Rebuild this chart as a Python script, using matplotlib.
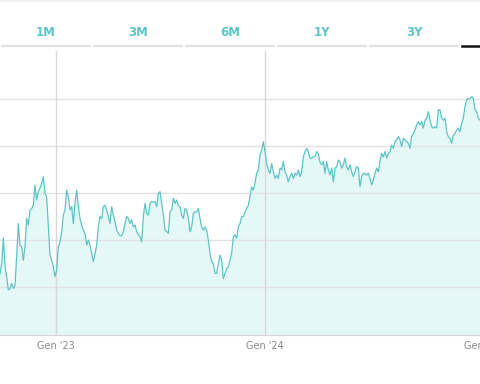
import pandas as pd
import matplotlib
matplotlib.use("Agg")
import matplotlib.pyplot as plt
import matplotlib.transforms as mtransforms
from matplotlib.lines import Line2D
from matplotlib.patches import Rectangle

# price series, one reading every 70 hours starting late Sept 2022
start = "2022-09-25"
step = "70h"
prices = [
    12.9, 15.0, 20.4, 14.3, 12.2, 9.4, 9.7, 10.8, 9.7, 10.4,
    16.5, 23.5, 18.9, 18.6, 15.7, 18.6, 24.6, 23.2, 26.4, 26.7,
    27.4, 31.7, 28.5, 30.3, 31.0, 32.1, 33.5, 29.9, 29.2, 22.8,
    16.8, 15.7, 14.3, 12.2, 13.6, 18.6, 19.6, 21.8, 25.3, 26.4,
    30.6, 29.2, 26.4, 27.1, 23.5, 27.8, 30.6, 27.1, 24.6,
    23.2, 22.1, 21.4, 18.9, 20.0, 18.9, 17.2, 15.4, 17.0, 18.9,
    22.8, 25.0, 24.6, 27.1, 27.4, 26.4, 25.0, 23.5, 27.1, 25.3,
    23.9, 22.1, 21.4, 20.9, 20.9, 21.8, 23.5, 25.0, 24.6, 23.5,
    24.3, 22.8, 23.2, 21.8, 21.1, 20.7, 19.6, 25.0, 27.8, 25.7,
    25.3, 27.8, 28.2, 28.0, 28.2, 27.1, 29.9, 30.3,
    27.8, 25.3, 22.1, 21.8, 21.4, 26.0, 26.4, 28.9, 27.8, 28.5,
    27.4, 27.1, 25.3, 24.6, 26.7, 26.4, 24.6, 21.8, 22.8, 25.7,
    26.0, 26.0, 26.7, 24.6, 22.8, 22.1, 22.8, 22.1, 20.0, 17.2,
    15.4, 15.0, 12.9, 12.9, 15.0, 16.8, 15.7, 11.8, 12.9, 14.0,
    14.3, 15.7, 17.2, 20.7, 21.1, 20.4, 22.8, 23.5,
    25.0, 25.0, 26.0, 26.7, 27.4, 29.2, 31.3, 30.6, 32.1, 34.2,
    34.9, 38.1, 39.1, 40.9, 38.8, 36.3, 34.9, 34.2, 36.3, 34.5,
    33.1, 33.8, 33.1, 35.3, 34.9, 36.7, 34.5, 33.8, 32.4, 33.5,
    34.2, 33.1, 34.2, 33.8, 34.9, 33.5, 34.5, 37.7, 38.8, 39.5,
    38.8, 37.4, 37.4, 37.7, 37.7, 38.8, 38.4, 36.5,
    36.0, 36.7, 34.2, 36.7, 34.9, 33.8, 35.3, 32.4, 35.3, 35.6,
    37.0, 36.7, 35.3, 36.0, 37.4, 35.6, 34.9, 36.0, 34.5, 33.5,
    34.5, 35.6, 35.3, 31.3, 33.5, 34.2, 34.2, 33.8, 34.2, 33.1,
    31.7, 32.8, 34.2, 35.3, 34.5, 36.7, 38.4, 37.7, 38.8, 37.4,
    38.4, 38.8, 40.2, 39.5, 40.9, 41.3, 42.0, 41.3, 39.9, 41.6,
    41.3, 40.9, 40.6, 39.5, 42.0, 42.7, 43.4, 44.5, 45.2, 44.5,
    45.2, 43.8, 45.5, 45.9, 47.3, 45.5, 44.1, 43.8, 44.1, 43.8,
    47.7, 47.7, 45.9, 45.5, 45.9, 43.0, 42.0, 41.6, 40.6, 42.3,
    42.7, 43.4, 43.8, 43.0, 44.8, 45.9, 48.4, 49.8, 50.1, 50.1,
    50.5, 50.1, 47.7, 47.3, 45.9, 45.5,
]
grid_levels = [10, 20, 30, 40, 50]
year_ticks = ["2023-01-01", "2024-01-01", "2025-01-01"]
year_labels = ["Gen '23", "Gen '24", "Gen '25"]
ranges = ["1M", "3M", "6M", "1Y", "3Y"]

teal = "#5cc6c6"
fill = "#e5f7f7"
grid = "#e2e2e2"

dates = pd.date_range(start, periods=len(prices), freq=step)

fig = plt.figure(figsize=(4.8, 3.84), dpi=100)
ax = fig.add_axes([0, 49 / 384, 1, 284 / 384])

ax.fill_between(dates, prices, -1, color=fill, lw=0, zorder=1)
ax.plot(dates, prices, color=teal, lw=0.9, zorder=3)

ax.set_xlim(dates[0], dates[-1])
ax.set_ylim(-0.2, 60.2)

for lvl in grid_levels:
    ax.axhline(lvl, color=grid, lw=1.0, zorder=2)
# the last year line falls just past the visible edge, so only the first two
for d in year_ticks[:2]:
    ax.axvline(pd.Timestamp(d), color="#d8d8d8", lw=1.0, zorder=2)

ax.set_xticks([pd.Timestamp(d) for d in year_ticks])
ax.set_xticklabels(year_labels, fontsize=7, color="#8a8a8a")
ax.tick_params(axis="x", length=0, pad=4)
last = ax.get_xticklabels()[-1]
last.set_transform(last.get_transform() +
                   mtransforms.ScaledTranslation(9 / 100, 0, fig.dpi_scale_trans))
ax.set_yticks([])
for side in ["top", "left", "right"]:
    ax.spines[side].set_visible(False)
ax.spines["bottom"].set_color("#d6d6d6")
ax.spines["bottom"].set_linestyle((0, (1, 1)))
ax.spines["bottom"].set_linewidth(0.8)

# range selector strip at the top
fig.add_artist(Rectangle((0, 382 / 384), 1, 2 / 384, transform=fig.transFigure,
                         color="#f2f2f2", lw=0))
seg = 92 / 480
for i, lab in enumerate(ranges):
    x0 = (2 + i * 92) / 480
    fig.text(x0 + (seg - 4 / 480) / 2, 1 - 33 / 384, lab, ha="center", va="center",
             fontsize=8.5, color=teal, fontweight="bold")
    fig.add_artist(Line2D([x0, x0 + 88 / 480], [1 - 46 / 384] * 2,
                          transform=fig.transFigure, color="#dfe2e6", lw=1.5))
fig.add_artist(Line2D([462 / 480, 1], [1 - 46 / 384] * 2,
                      transform=fig.transFigure, color="#111111", lw=1.8))

fig.savefig("out.png", dpi=100)
